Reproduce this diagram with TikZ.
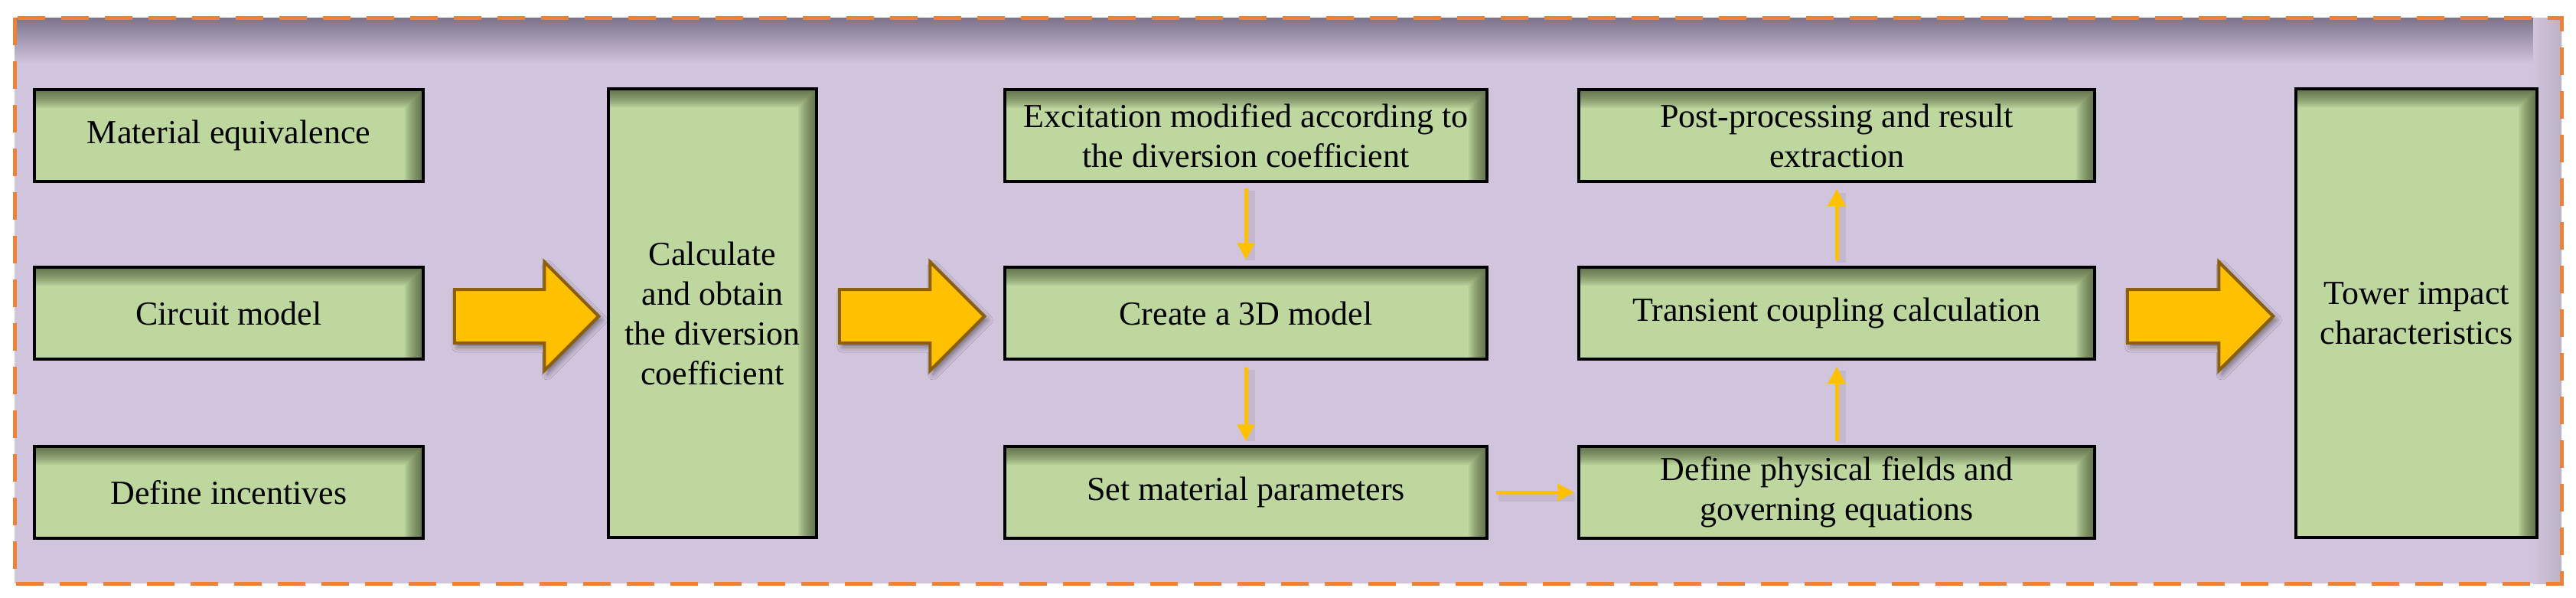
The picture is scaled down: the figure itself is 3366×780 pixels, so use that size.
\documentclass[tikz,border=0pt]{standalone}
\usepackage{fontspec}
\setmainfont{Liberation Serif}
\usetikzlibrary{calc,arrows.meta,shadows.blur}
\definecolor{lav}{RGB}{209,196,221}
\definecolor{boxgreen}{RGB}{189,215,158}
\definecolor{boxshade}{RGB}{50,60,30}
\definecolor{frameor}{RGB}{234,130,60}
\definecolor{arrfill}{RGB}{255,192,0}
\definecolor{arredge}{RGB}{140,95,10}
\definecolor{frameshade}{RGB}{96,88,112}
\tikzset{
  procbox/.style={draw=black, line width=3.5pt, fill=boxgreen, minimum height=120pt,
    align=center, inner sep=4pt, font=\fontsize{44}{52}\selectfont,
    path picture={
      \foreach \w in {4,8,...,48}{
        \draw[boxshade, opacity=0.075, line width=\w pt, line join=miter]
          ([xshift=-30pt]path picture bounding box.north west)
          -- (path picture bounding box.north east)
          -- ([yshift=-30pt]path picture bounding box.south east);
      }
    }},
  bigarr/.style={fill=arrfill, draw=arredge, line width=4pt, line join=miter,
    blur shadow={shadow xshift=4pt, shadow yshift=-5pt, shadow opacity=45, shadow blur radius=7pt}},
  smallarr/.style={draw=arrfill, line width=5pt, -{Triangle[length=22pt,width=22pt]}},
  smallshadow/.style={draw=black!60, line width=12pt, opacity=0.12}
}
\newcommand\blockarrow[2]{%
  \path[bigarr] let \p1=(#1), \p2=(#2) in
    (\x1,\y1+35pt) -- (\x2-71pt,\y1+35pt) -- (\x2-71pt,\y1+71pt) -- (\x2,\y1)
    -- (\x2-71pt,\y1-71pt) -- (\x2-71pt,\y1-35pt) -- (\x1,\y1-35pt) -- cycle;
}
\begin{document}
\begin{tikzpicture}[x=1pt,y=-1pt]
\useasboundingbox (0,0) rectangle (3366,780);
% frame
\fill[lav] (19,23) rectangle (3347,762);
\begin{scope}
  \clip (19,23) rectangle (3347,762);
  \shade[top color=frameshade, bottom color=lav] (19,3) rectangle (3347,83);
  \shade[left color=lav, right color=lav!65!gray] (3310,23) rectangle (3358,762);
\end{scope}
\draw[frameor, line width=5pt, dash pattern=on 36pt off 21pt] (19,23) rectangle (3347,762);

% boxes
\node[procbox, minimum width=508pt] (mat) at (299,177) {Material equivalence};
\node[procbox, minimum width=508pt] (cir) at (299,409) {Circuit model};
\node[procbox, minimum width=508pt] (inc) at (299,643) {Define incentives};
\node[procbox, minimum width=272pt, minimum height=586pt] (calc) at (931,409)
  {Calculate\\and obtain\\the diversion\\coefficient};
\node[procbox, minimum width=630pt] (exc) at (1628,177)
  {Excitation modified according to\\the diversion coefficient};
\node[procbox, minimum width=630pt] (cre) at (1628,409) {Create a 3D model};
\node[procbox, minimum width=630pt] (set) at (1628,643) {Set material parameters};
\node[procbox, minimum width=674pt] (post) at (2400,177)
  {Post-processing and result\\extraction};
\node[procbox, minimum width=674pt] (tra) at (2400,409) {Transient coupling calculation};
\node[procbox, minimum width=674pt] (def) at (2400,643)
  {Define physical fields and\\governing equations};
\node[procbox, minimum width=315pt, minimum height=586pt] (tow) at (3157.5,409)
  {Tower impact\\characteristics};

% block arrows
\coordinate (a1s) at ($(cir.east)+(39,4)$);
\coordinate (a1e) at ($(calc.west)+(-11,4)$);
\coordinate (a2s) at ($(calc.east)+(28,4)$);
\coordinate (a2e) at ($(cre.west)+(-25,4)$);
\coordinate (a3s) at ($(tra.east)+(41,4)$);
\coordinate (a3e) at ($(tow.west)+(-28,4)$);
\blockarrow{a1s}{a1e}
\blockarrow{a2s}{a2e}
\blockarrow{a3s}{a3e}

% small arrows (soft shadow then arrow)
\draw[smallshadow, shorten <=7pt, shorten >=10pt, transform canvas={xshift=6pt,yshift=-3pt}] (exc.south) -- (cre.north);
\draw[smallshadow, shorten <=9pt, shorten >=8pt, transform canvas={xshift=6pt,yshift=-3pt}] (cre.south) -- (set.north);
\draw[smallshadow, shorten <=10pt, shorten >=6pt, transform canvas={xshift=3pt,yshift=-6pt}] (set.east) -- (def.west);
\draw[smallshadow, shorten <=5pt, shorten >=10pt, transform canvas={xshift=6pt,yshift=-3pt}] (def.north) -- (tra.south);
\draw[smallshadow, shorten <=7pt, shorten >=10pt, transform canvas={xshift=6pt,yshift=-3pt}] (tra.north) -- (post.south);

\draw[smallarr, shorten <=7pt, shorten >=8pt] (exc.south) -- (cre.north);
\draw[smallarr, shorten <=9pt, shorten >=5pt] (cre.south) -- (set.north);
\draw[smallarr, shorten <=10pt, shorten >=4pt] (set.east) -- (def.west);
\draw[smallarr, shorten <=5pt, shorten >=8pt] (def.north) -- (tra.south);
\draw[smallarr, shorten <=7pt, shorten >=8pt] (tra.north) -- (post.south);
\end{tikzpicture}
\end{document}
